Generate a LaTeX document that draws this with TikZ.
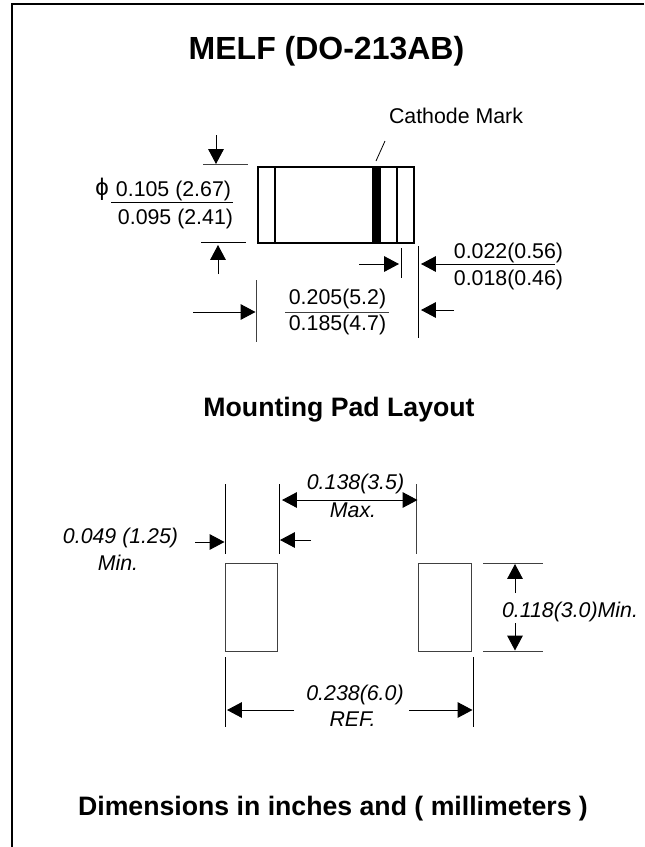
\documentclass[tikz,border=0pt]{standalone}
\usepackage{fontspec}
\setmainfont{Liberation Sans}
\usetikzlibrary{arrows.meta}
\tikzset{
  x=0.75pt,y=-0.75pt,
  dimline/.style={line width=0.75pt,draw=black!75},
  arr/.style={line width=0.75pt,-{Triangle[length=11.2pt,width=11.7pt]}},
  txt/.style={inner sep=0pt,anchor=base,font=\fontsize{16}{19}\selectfont},
  itxt/.style={inner sep=0pt,anchor=base,font=\fontsize{16}{19}\selectfont\itshape},
  head/.style={inner sep=0pt,anchor=base,font=\fontsize{20}{24}\selectfont\bfseries},
  bodyline/.style={line width=1.2pt},
}
\begin{document}
\begin{tikzpicture}
\useasboundingbox (0,0) rectangle (644,847);
\coordinate (fa) at (644,4.2); \coordinate (fb) at (12,4.2); \coordinate (fc) at (12,847);
\draw[line width=1.3pt,miter limit=10] (fa) -- (fb) -- (fc);
% headings
\node[head,font=\fontsize{24}{28}\selectfont\bfseries] (title) at (326.5,59.3) {MELF (DO-213AB)};
\node[head] (mount) at (339,416.7) {Mounting Pad Layout};
\node[head] (dims) at (333,815.8) {Dimensions in inches and ( millimeters )};
% part body
\draw[bodyline] (258,167) rectangle (414,243);
\draw[bodyline] (275,167) -- (275,243);
\draw[bodyline] (397,167) -- (397,243);
\fill (372,166.5) rectangle (381,243.5);
\node[txt] (cm) at (456,123.7) {Cathode Mark};
\coordinate (s1) at (376,161); \coordinate (s2) at (385,141);
\draw[line width=0.6pt] (s1) -- (s2);
% phi dimension
\coordinate (a1) at (216,135); \coordinate (a2) at (216,164);
\draw[arr] (a1) -- (a2);
\coordinate (b1) at (203,164.7); \coordinate (b2) at (248,164.7);
\draw[dimline] (b1) -- (b2);
\coordinate (c1) at (218,274); \coordinate (c2) at (218,245);
\draw[arr] (c1) -- (c2);
\coordinate (d1) at (201,242.3); \coordinate (d2) at (246,242.3);
\draw[line width=0.75pt] (d1) -- (d2);
\node[inner sep=0pt,font=\fontsize{18}{20}\selectfont] (phi) at (102,189) {ϕ};
\node[txt] (t1) at (173.5,196.3) {0.105 (2.67)};
\node[txt] (t2) at (175.5,224.3) {0.095 (2.41)};
\coordinate (e1) at (111,202); \coordinate (e2) at (233,202);
\draw[line width=0.6pt] (e1) -- (e2);
% length dimension
\coordinate (f1) at (256,280); \coordinate (f2) at (256,342);
\draw[dimline] (f1) -- (f2);
\coordinate (g1) at (193,312); \coordinate (g2) at (255.5,312);
\draw[arr] (g1) -- (g2);
\node[txt] (t3) at (337.5,304) {0.205(5.2)};
\node[txt] (t4) at (337.5,330.7) {0.185(4.7)};
\coordinate (h1) at (285,312); \coordinate (h2) at (389,312);
\draw[dimline] (h1) -- (h2);
% band dimension
\coordinate (i1) at (401,248); \coordinate (i2) at (401,278);
\draw[line width=0.6pt] (i1) -- (i2);
\coordinate (j1) at (418,246); \coordinate (j2) at (418,338);
\draw[line width=0.6pt] (j1) -- (j2);
\coordinate (k1) at (359,264); \coordinate (k2) at (399,264);
\draw[arr] (k1) -- (k2);
\coordinate (l1) at (555,264); \coordinate (l2) at (421,264);
\draw[arr] (l1) -- (l2);
\coordinate (m1) at (454,310); \coordinate (m2) at (421,310);
\draw[arr] (m1) -- (m2);
\node[txt] (t5) at (508.5,258.7) {0.022(0.56)};
\node[txt] (t6) at (508.5,285) {0.018(0.46)};
% pads
\draw[dimline] (225,563) rectangle (277,651);
\draw[dimline] (418,563) rectangle (471,651);
% upper pad dimensions
\coordinate (n1) at (225,484); \coordinate (n2) at (225,554);
\draw[line width=0.6pt] (n1) -- (n2);
\coordinate (o1) at (279,484); \coordinate (o2) at (279,554);
\draw[line width=0.6pt] (o1) -- (o2);
\coordinate (p1) at (416,484); \coordinate (p2) at (416,554);
\draw[dimline] (p1) -- (p2);
\coordinate (q1) at (195,542); \coordinate (q2) at (224.5,542);
\draw[arr] (q1) -- (q2);
\coordinate (r1) at (311,540); \coordinate (r2) at (280,540);
\draw[arr] (r1) -- (r2);
\coordinate (u1) at (349,500);
\coordinate (u2) at (282,500); \coordinate (u3) at (417.5,500);
\draw[arr] (u1) -- (u2);
\draw[arr] (u1) -- (u3);
\node[itxt] (t7) at (355.5,489) {0.138(3.5)};
\node[itxt] (t8) at (353,517.5) {Max.};
\node[itxt] (t9) at (120.5,543) {0.049 (1.25)};
\node[itxt] (t10) at (118,570) {Min.};
% lower pad dimensions
\coordinate (v1) at (225,657); \coordinate (v2) at (225,727);
\draw[line width=0.6pt] (v1) -- (v2);
\coordinate (w1) at (473,657); \coordinate (w2) at (473,727);
\draw[line width=0.6pt] (w1) -- (w2);
\coordinate (x1) at (294,710); \coordinate (x2) at (227,710);
\draw[arr] (x1) -- (x2);
\coordinate (y1) at (409,710); \coordinate (y2) at (472.5,710);
\draw[arr] (y1) -- (y2);
\node[itxt] (t11) at (355,700) {0.238(6.0)};
\node[itxt] (t12) at (352.5,726.7) {REF.};
% height dimension
\coordinate (z1) at (483,563.3); \coordinate (z2) at (543,563.3);
\draw[dimline] (z1) -- (z2);
\coordinate (z3) at (483,651); \coordinate (z4) at (543,651);
\draw[dimline] (z3) -- (z4);
\coordinate (z5) at (515,593); \coordinate (z6) at (515,564);
\draw[arr] (z5) -- (z6);
\coordinate (z7) at (515,623); \coordinate (z8) at (515,650.5);
\draw[arr] (z7) -- (z8);
\node[itxt] (t13) at (570,617.7) {0.118(3.0)Min.};
\end{tikzpicture}
\end{document}
